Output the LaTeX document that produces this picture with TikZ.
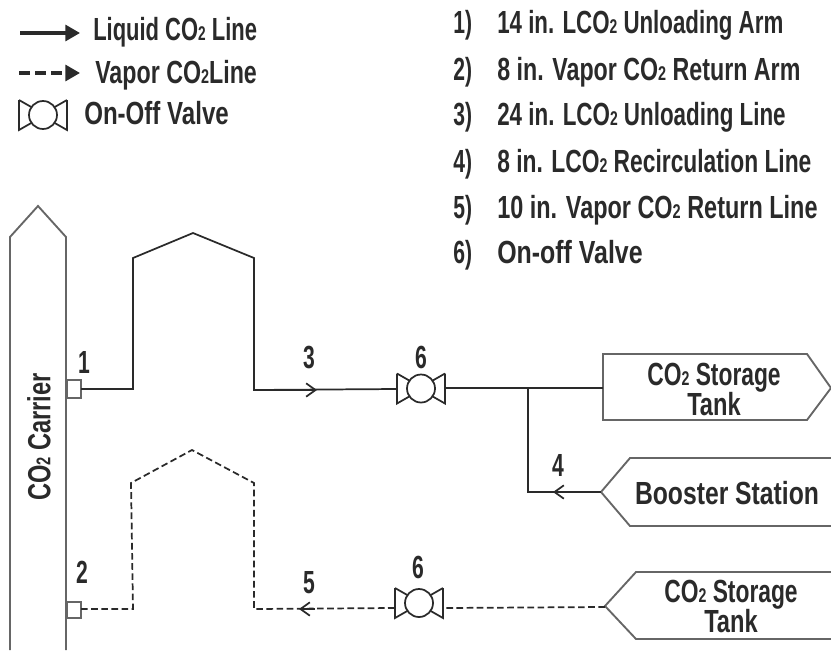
\documentclass[tikz,border=0pt]{standalone}
\usepackage{fontspec}
\setmainfont[FakeStretch=0.66,BoldFont={Liberation Sans Bold}]{Liberation Sans}
\usetikzlibrary{arrows.meta}
\newcommand\subtwo{\scalebox{0.62}{2}}
\newcommand\hs[2]{\scalebox{#1}[1]{#2}}
\definecolor{ink}{HTML}{2A2A2A}
\definecolor{shapeline}{HTML}{666666}
\tikzset{
  lbl/.style={text=ink,inner sep=0pt,font=\fontsize{24}{22.5}\selectfont\bfseries},
  listlbl/.style={lbl,anchor=base west},
  boxline/.style={draw=shapeline,line width=1.4pt},
  pipe/.style={draw=ink,line width=1.3pt},
  vapor/.style={draw=ink,line width=1.3pt,dash pattern=on 5pt off 2.6pt},
  flow/.style={draw=ink,line width=1.3pt,-{Straight Barb[length=7pt,width=10pt,line width=1.3pt]}},
  stub/.style={draw=shapeline,line width=1.3pt},
  valvepic/.pic={
    \draw[draw=ink,line width=1.3pt] (-24,-15)--(-24,15)--(-10,7) (-24,-15)--(-10,-7)
      (24,-15)--(24,15)--(10,7) (24,-15)--(10,-7);
    \draw[draw=ink,line width=1.3pt,fill=white] (0,0) circle (14);
  },
}
\begin{document}
\begin{tikzpicture}[x=0.75pt,y=-0.75pt]
\useasboundingbox (0,0) rectangle (831,650);
% legend
\coordinate (la1) at (20,33); \coordinate (la2) at (80,33);
\coordinate (lb1) at (19,73); \coordinate (lb2) at (80,73);
\draw[draw=ink,line width=2.4pt,-{Triangle[length=11pt,width=12pt]}] (la1)--(la2);
\draw[draw=ink,line width=2.4pt,dash pattern=on 8pt off 4pt,-{Triangle[length=11pt,width=12pt]}] (lb1)--(lb2);
\pic at (43,115) {valvepic};
\node[listlbl] (tl1) at (93,40) {\hs{1.04}{Liquid CO\subtwo\ Line}};
\node[listlbl] (tl2) at (95,83) {\hs{1.10}{Vapor CO\subtwo Line}};
\node[listlbl] (tl3) at (84,124) {\hs{1.14}{On-Off Valve}};
% list
\foreach \n/\y/\s/\t in {1/33/1.056/{14 in. LCO\subtwo\ Unloading Arm},
  2/80/1.10/{8 in. Vapor CO\subtwo\ Return Arm},
  3/125/1.06/{24 in. LCO\subtwo\ Unloading Line},
  4/172/1.08/{8 in. LCO\subtwo\ Recirculation Line},
  5/218/1.11/{10 in. Vapor CO\subtwo\ Return Line},
  6/263/1.18/{On-off Valve}}{
  \node[listlbl] (ln\n) at (453,\y) {\n)};
  \node[listlbl] (lt\n) at (497,\y) {\hs{\s}{\t}};
}
% carrier
\draw[boxline] (10,650)--(10,237)--(38,206)--(66,237)--(66,650);
\node[lbl,rotate=90] (carrier) at (39,437) {\hs{1.12}{CO\subtwo\ Carrier}};
% stubs
\draw[stub] (67,380) rectangle (81,398);
\draw[stub] (67,602) rectangle (81,618);
% tanks
\draw[boxline] (603,354)--(807,354)--(831,388)--(807,420)--(603,420)--cycle;
\draw[boxline] (831,458)--(630,458)--(601,492)--(630,526)--(831,526);
\draw[boxline] (831,572)--(636,572)--(605,606)--(636,639)--(831,639);
\node[lbl,align=center] (tank1) at (714,389) {\hs{1.08}{CO\subtwo\ Storage}\\\hs{1.12}{Tank}};
\node[lbl] (booster) at (727,493) {\hs{1.17}{Booster Station}};
\node[lbl,align=center] (tank2) at (731,606) {\hs{1.08}{CO\subtwo\ Storage}\\\hs{1.12}{Tank}};
% liquid line
\coordinate (s1) at (81,389); \coordinate (a1) at (133,389); \coordinate (a2) at (133,258);
\coordinate (a3) at (193,233); \coordinate (a4) at (254,258); \coordinate (a5) at (254,390);
\coordinate (f3) at (317,390); \coordinate (v1l) at (397,389); \coordinate (v1r) at (446,388);
\coordinate (j) at (528,388); \coordinate (t1) at (603,388);
\coordinate (b1) at (528,492); \coordinate (f4) at (553,492); \coordinate (t2) at (601,492);
\draw[pipe] (s1)--(a1)--(a2)--(a3)--(a4)--(a5)--(v1l);
\draw[flow] (a5)--(f3);
\draw[pipe] (v1r)--(t1);
\draw[pipe] (j)--(b1)--(t2);
\draw[flow] (t2)--(f4);
\pic at (421,388.5) {valvepic};
% vapor line
\coordinate (s2) at (81,609); \coordinate (c1) at (133,609); \coordinate (c2) at (131,483);
\coordinate (c3) at (192,450); \coordinate (c4) at (254,483); \coordinate (c5) at (254,609);
\coordinate (v2l) at (394,608); \coordinate (v2r) at (446,608); \coordinate (t3) at (605,607);
\coordinate (f5) at (299,609); \coordinate (f5s) at (315,609);
\draw[vapor] (s2)--(c1)--(c2)--(c3)--(c4)--(c5)--(v2l);
\draw[flow] (f5s)--(f5);
\draw[vapor] (t3)--(v2r);
\pic at (419,603) {valvepic};
% numbers
\node[lbl] (n1) at (84,362) {1};
\node[lbl] (n2) at (82,572) {2};
\node[lbl] (n3) at (309,358) {3};
\node[lbl] (n6a) at (421,357) {6};
\node[lbl] (n4) at (558,465) {4};
\node[lbl] (n5) at (309,583) {5};
\node[lbl] (n6b) at (418,567) {6};
\end{tikzpicture}
\end{document}
